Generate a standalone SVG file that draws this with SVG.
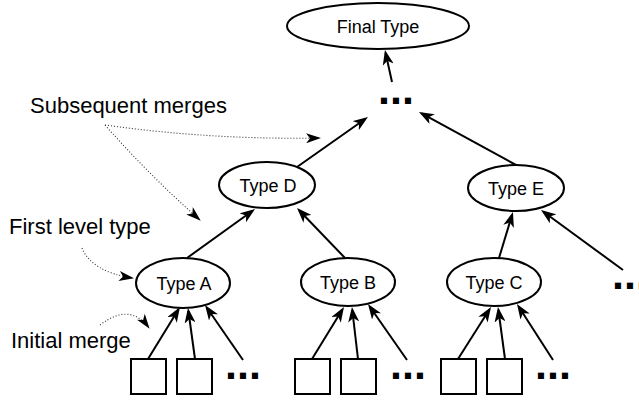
<svg xmlns="http://www.w3.org/2000/svg" width="639" height="400" viewBox="0 0 639 400">
  <style>
    .node { fill: #ffffff; stroke: #000000; stroke-width: 2; }
    .label { font-family: "Liberation Sans", Arial, sans-serif; font-size: 18px; fill: #000000; text-anchor: middle; }
    .note { font-family: "Liberation Sans", Arial, sans-serif; font-size: 22px; fill: #000000; }
    .dots { font-family: "Liberation Sans", Arial, sans-serif; font-size: 43px; font-weight: bold; fill: #000000; }
    .edge { fill: none; stroke: #000000; stroke-width: 2; marker-end: url(#arrow); }
    .hint { fill: none; stroke: #333333; stroke-width: 1.1; stroke-dasharray: 1 2; marker-end: url(#arrowSmall); }
  </style>
  <defs>
    <marker id="arrow" viewBox="0 0 15 11" refX="12" refY="5.5" markerWidth="15" markerHeight="11" orient="auto" markerUnits="userSpaceOnUse">
      <path d="M0,0 L15,5.5 L0,11 L4,5.5 Z" fill="#000000"/>
    </marker>
    <marker id="arrowSmall" viewBox="0 0 15 10" refX="14" refY="5" markerWidth="15" markerHeight="10" orient="auto" markerUnits="userSpaceOnUse">
      <path d="M0,0 L15,5 L0,10 L4,5 Z" fill="#000000"/>
    </marker>
  </defs>

  <rect width="639" height="400" fill="#ffffff"/>

  <!-- connectors -->
  <g id="connectors">
    <path class="edge" d="M392,82 L385.6,52.9"/>
    <path class="edge" d="M297,167 L365.5,118.7"/>
    <path class="edge" d="M516,165 L421.6,113.4"/>
    <path class="edge" d="M187,258 L252.6,210.8"/>
    <path class="edge" d="M345,258 L299.1,210.2"/>
    <path class="edge" d="M499,258 L512.1,214.9"/>
    <path class="edge" d="M623,270 L543.4,211.8"/>
    <path class="edge" d="M148,359 L178.4,309.6"/>
    <path class="edge" d="M195,359 L188.4,311"/>
    <path class="edge" d="M243,360 L206.7,307.5"/>
    <path class="edge" d="M312,359 L342.4,309.6"/>
    <path class="edge" d="M358,359 L352.3,310"/>
    <path class="edge" d="M407,360 L369.7,306.5"/>
    <path class="edge" d="M458,359 L489.4,309.5"/>
    <path class="edge" d="M505,359 L498.4,310"/>
    <path class="edge" d="M553,360 L518.6,306.5"/>
    <!-- dotted annotation pointers -->
    <path class="hint" d="M105,125 Q212,140 320,138"/>
    <path class="hint" d="M105,125 Q150,176 200,220"/>
    <path class="hint" d="M82,248 Q92,272 133,278"/>
    <path class="hint" d="M100,325 Q130,302 149,328"/>
  </g>

  <!-- nodes -->
  <g id="final-type">
    <ellipse class="node" cx="378" cy="26" rx="91" ry="23"/>
    <text class="label" x="378" y="32.5">Final Type</text>
  </g>
  <g id="top-more">
    <text class="dots" x="378" y="103.5">...</text>
  </g>
  <g id="type-d">
    <ellipse class="node" cx="267" cy="185" rx="48" ry="23"/>
    <text class="label" x="268" y="191.5">Type D</text>
  </g>
  <g id="type-e">
    <ellipse class="node" cx="516" cy="188" rx="48" ry="23"/>
    <text class="label" x="516" y="194.5">Type E</text>
  </g>
  <g id="type-a">
    <ellipse class="node" cx="183" cy="283" rx="47" ry="25"/>
    <text class="label" x="184" y="289.5">Type A</text>
  </g>
  <g id="type-b">
    <ellipse class="node" cx="348" cy="282" rx="47" ry="24"/>
    <text class="label" x="348" y="288.5">Type B</text>
  </g>
  <g id="type-c">
    <ellipse class="node" cx="494" cy="282" rx="47" ry="24"/>
    <text class="label" x="494" y="288.5">Type C</text>
  </g>
  <g id="right-more">
    <text class="dots" x="612" y="289">...</text>
  </g>

  <g id="leaves-a">
    <rect class="node" x="131" y="359" width="35" height="35"/>
    <rect class="node" x="177" y="359" width="35" height="35"/>
    <text class="dots" x="225" y="379">...</text>
  </g>
  <g id="leaves-b">
    <rect class="node" x="295" y="359" width="35" height="35"/>
    <rect class="node" x="341" y="359" width="35" height="35"/>
    <text class="dots" x="390" y="379">...</text>
  </g>
  <g id="leaves-c">
    <rect class="node" x="441" y="359" width="35" height="35"/>
    <rect class="node" x="487" y="359" width="35" height="35"/>
    <text class="dots" x="535" y="379">...</text>
  </g>

  <!-- annotations -->
  <g id="notes">
    <text class="note" x="30" y="113">Subsequent merges</text>
    <text class="note" x="9" y="234">First level type</text>
    <text class="note" x="11" y="348">Initial merge</text>
  </g>
</svg>
